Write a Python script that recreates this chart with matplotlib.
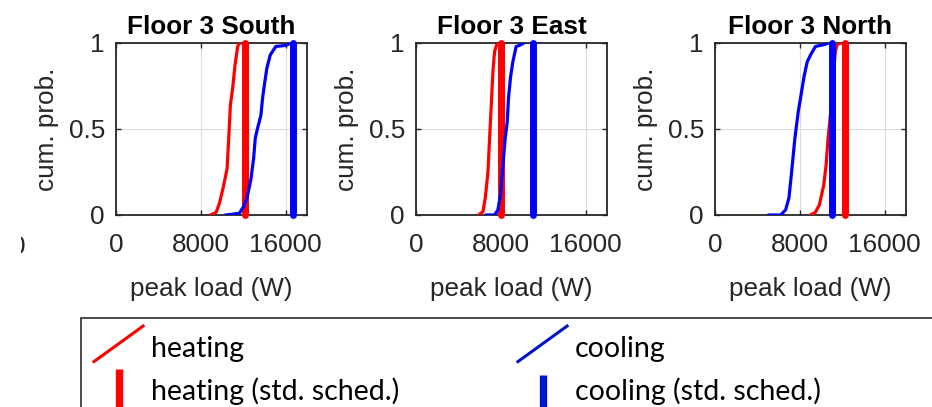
import numpy as np
import matplotlib
matplotlib.use("Agg")
import matplotlib.pyplot as plt
from matplotlib.lines import Line2D
from matplotlib.patches import Rectangle
from matplotlib.legend_handler import HandlerBase
from matplotlib.transforms import Bbox, TransformedBbox

# ---------------- data ----------------
titles = ["Floor 3 South", "Floor 3 East", "Floor 3 North"]
x_ticks = [0, 8000, 16000]
y_ticks = [0, 0.5, 1]
y_tick_labels = ["0", "0.5", "1"]

south_heat_load = [8906, 9440, 9750, 10156, 10469, 10625, 10781, 11000, 11219, 11469, 11625, 12150]
south_heat_prob = [0.0, 0.016, 0.068, 0.175, 0.27, 0.447, 0.64, 0.74, 0.874, 0.98, 1.0, 1.0]
south_cool_load = [10375, 11625, 12031, 12344, 12719, 12969, 13125, 13344, 13656, 13813, 14031, 14219, 14531, 15063, 16000, 16469]
south_cool_prob = [0.0, 0.01, 0.05, 0.097, 0.21, 0.33, 0.447, 0.505, 0.58, 0.68, 0.777, 0.854, 0.93, 0.98, 0.986, 1.0]

east_heat_load = [5906, 6313, 6531, 6781, 6938, 7094, 7250, 7406, 7656, 8050]
east_heat_prob = [0.0, 0.02, 0.10, 0.25, 0.447, 0.64, 0.835, 0.95, 1.0, 1.0]
east_cool_load = [6625, 7406, 7719, 7969, 8188, 8406, 8594, 8719, 8906, 9125, 9438, 9750, 10156]
east_cool_prob = [0.0, 0.0, 0.03, 0.12, 0.29, 0.447, 0.54, 0.68, 0.80, 0.89, 0.98, 0.986, 1.0]

north_heat_load = [9000, 9469, 9844, 10250, 10469, 10656, 10969, 11188, 11344, 11500, 11813, 12220]
north_heat_prob = [0.0, 0.016, 0.06, 0.175, 0.29, 0.447, 0.64, 0.835, 0.95, 0.99, 1.0, 1.0]
north_cool_load = [5094, 6188, 6656, 6969, 7219, 7531, 7844, 8063, 8375, 8688, 9000, 9469, 10250, 10719]
north_cool_prob = [0.0, 0.0, 0.03, 0.10, 0.25, 0.447, 0.60, 0.68, 0.80, 0.89, 0.93, 0.98, 0.99, 1.0]

heat_std = [12150, 8050, 12220]
cool_std = [16690, 11000, 11030]

heat_load = [south_heat_load, east_heat_load, north_heat_load]
heat_prob = [south_heat_prob, east_heat_prob, north_heat_prob]
cool_load = [south_cool_load, east_cool_load, north_cool_load]
cool_prob = [south_cool_prob, east_cool_prob, north_cool_prob]

legend_labels = ["heating", "heating (std. sched.)", "cooling", "cooling (std. sched.)"]

# ---------------- style ----------------
W, H = 932, 407
FS = 18.8
TXT = "#262626"
RED = "#FF0000"
BLUE = "#0000FF"
LEG_BLUE = "#0014C8"
plt.rcParams["font.family"] = ["Liberation Sans", "DejaVu Sans"]

fig = plt.figure(figsize=(W / 100, H / 100), dpi=100)

ax_left_px = [116, 416, 715]
ax_w_px = 191
ax_top_px, ax_bot_px = 43, 215

for i in range(3):
    ax = fig.add_axes([ax_left_px[i] / W, 1 - ax_bot_px / H, ax_w_px / W, (ax_bot_px - ax_top_px) / H])
    ax.plot(heat_load[i], heat_prob[i], color=RED, lw=2.3, zorder=3)
    ax.plot([heat_std[i], heat_std[i]], [0, 1], color=RED, lw=5.0, solid_capstyle="round", clip_on=False, zorder=4)
    ax.plot(cool_load[i], cool_prob[i], color=BLUE, lw=2.3, zorder=5)
    ax.plot([cool_std[i], cool_std[i]], [0, 1], color=BLUE, lw=5.0, solid_capstyle="round", clip_on=False, zorder=6)

    ax.set_xlim(0, 18000)
    ax.set_ylim(0, 1)
    ax.set_xticks(x_ticks)
    ax.set_xticklabels([str(v) for v in x_ticks])
    ax.set_yticks(y_ticks)
    ax.set_yticklabels(y_tick_labels)
    ax.grid(True, color="#dcdcdc", lw=0.8)
    ax.set_axisbelow(True)
    ax.tick_params(axis="both", direction="in", length=3.5, width=1.0, color=TXT,
                   labelsize=FS, labelcolor=TXT, top=True, right=True)
    ax.tick_params(axis="x", pad=13)
    ax.tick_params(axis="y", pad=8)
    for sp in ax.spines.values():
        sp.set_color(TXT)
        sp.set_linewidth(1.3)
    ax.set_title(titles[i], fontsize=FS, fontweight="bold", color="black", pad=6.5)
    ax.set_xlabel("peak load (W)", fontsize=FS, color=TXT)
    ax.set_ylabel("cum. prob.", fontsize=FS, color=TXT)
    ax.xaxis.set_label_coords(0.5, -0.36)
    ax.yaxis.set_label_coords(-0.298, 0.5)

# partially visible tick label at far left (cropped in the original)
t0 = fig.text(18.5 / W, 1 - 247 / H, "0", ha="center", va="center", fontsize=FS, color=TXT)
t0.set_clip_box(TransformedBbox(Bbox([[20.5 / W, 0], [1, 1]]), fig.transFigure))
t0.set_clip_on(True)

# ---------------- legend ----------------
LFS = 20.5  # points


class HandlerDiag(HandlerBase):
    def create_artists(self, legend, orig_handle, xdescent, ydescent, width, height, fontsize, trans):
        ln = Line2D([0, 37.2], [-3.6, 23.3], color=orig_handle.get_color(),
                    lw=orig_handle.get_linewidth(), solid_capstyle="butt")
        ln.set_transform(trans)
        return [ln]


class HandlerVBar(HandlerBase):
    def __init__(self, bottom, top, **kw):
        super().__init__(**kw)
        self.bottom, self.top = bottom, top

    def create_artists(self, legend, orig_handle, xdescent, ydescent, width, height, fontsize, trans):
        ln = Line2D([18.9, 18.9], [self.bottom, self.top], color=orig_handle.get_color(),
                    lw=orig_handle.get_linewidth(), solid_capstyle="butt")
        ln.set_transform(trans)
        return [ln]


h_heat = Line2D([], [], color=RED, lw=2.2)
h_heat_std = Line2D([], [], color=RED, lw=5.3)
h_cool = Line2D([], [], color=LEG_BLUE, lw=2.2)
h_cool_std = Line2D([], [], color=LEG_BLUE, lw=5.3)

common = dict(loc="upper left", frameon=False, borderpad=0, borderaxespad=0,
              handlelength=37.2 / LFS, handleheight=1.0, handletextpad=(151 - 144.3) / 1.389 / LFS,
              labelspacing=0.52, prop={"family": "Lato", "size": LFS}, labelcolor="black")

leg1 = fig.legend([h_heat, h_heat_std], legend_labels[:2],
                  handler_map={h_heat: HandlerDiag(), h_heat_std: HandlerVBar(-5.5, 22.5)},
                  bbox_to_anchor=(92.7 / W, 1 - 335 / H), **common)
leg2 = fig.legend([h_cool, h_cool_std], legend_labels[2:],
                  handler_map={h_cool: HandlerDiag(), h_cool_std: HandlerVBar(-7.0, 18.0)},
                  bbox_to_anchor=(516.7 / W, 1 - 335 / H), **common)

fig.add_artist(Rectangle((80.5 / W, -0.05), 1.0, (H - 318) / H + 0.05, transform=fig.transFigure,
                         fill=False, ec="#1a1a1a", lw=1.1))

fig.savefig("out.png", dpi=100)
